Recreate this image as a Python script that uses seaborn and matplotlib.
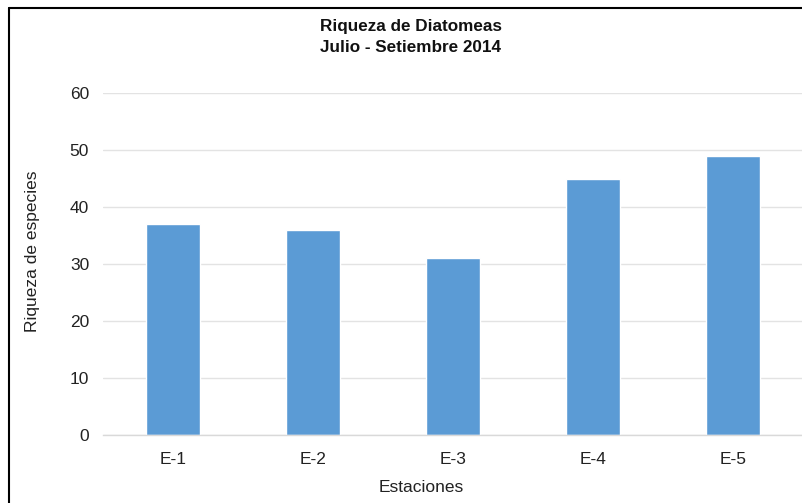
import matplotlib
matplotlib.use("Agg")
import matplotlib.pyplot as plt
import seaborn as sns
import pandas as pd
from matplotlib.lines import Line2D

estaciones = ["E-1", "E-2", "E-3", "E-4", "E-5"]
riqueza = [37, 36, 31, 45, 49]
yticks = [0, 10, 20, 30, 40, 50, 60]

sns.set_theme(style="white")
plt.rcParams["font.family"] = ["Liberation Sans", "DejaVu Sans"]

df = pd.DataFrame({"Estaciones": estaciones, "Riqueza": riqueza})

W, H = 803, 503
fig = plt.figure(figsize=(W / 100, H / 100), dpi=100)
ax = fig.add_axes([103 / W, 68 / H, 700 / W, 342 / H])
sns.barplot(data=df, x="Estaciones", y="Riqueza", color="#5B9BD5",
            width=0.39, saturation=1, ax=ax, zorder=3)
ax.set_xlim(-0.5, 4.5)
ax.set_ylim(0, 60)
ax.set_yticks(yticks)
ax.yaxis.grid(True, color="#E3E3E3", linewidth=1, zorder=0)
ax.set_axisbelow(True)
for s in ["top", "right", "left"]:
    ax.spines[s].set_visible(False)
ax.spines["bottom"].set_color("#D9D9D9")
ax.spines["bottom"].set_linewidth(1)
ax.spines["bottom"].set_zorder(4)
ax.tick_params(axis="both", length=0, labelsize=12.5, colors="#222222")
ax.tick_params(axis="y", pad=10)
ax.tick_params(axis="x", pad=12)
ax.set_xlabel("")
ax.set_ylabel("")

fig.text(421 / W, 1 - 487 / H, "Estaciones", ha="center", va="center",
         fontsize=12.5, color="#222222")
fig.text(33 / W, 1 - 251 / H, "Riqueza de especies", ha="center", va="center",
         rotation=90, fontsize=12.5, color="#222222")

fig.text(411 / W, 1 - 27 / H, "Riqueza de Diatomeas", ha="center", va="center",
         fontsize=12.3, fontweight="bold", color="#111111")
fig.text(411 / W, 1 - 47 / H, "Julio - Setiembre 2014", ha="center", va="center",
         fontsize=12.3, fontweight="bold", color="#111111")

fig.add_artist(Line2D([9.5 / W, 9.5 / W], [0, 1 - 7.5 / H], transform=fig.transFigure,
                      color="black", linewidth=1.5))
fig.add_artist(Line2D([9.5 / W, 1], [1 - 7.5 / H, 1 - 7.5 / H], transform=fig.transFigure,
                      color="black", linewidth=1.5))

fig.savefig("out.png", dpi=100)
